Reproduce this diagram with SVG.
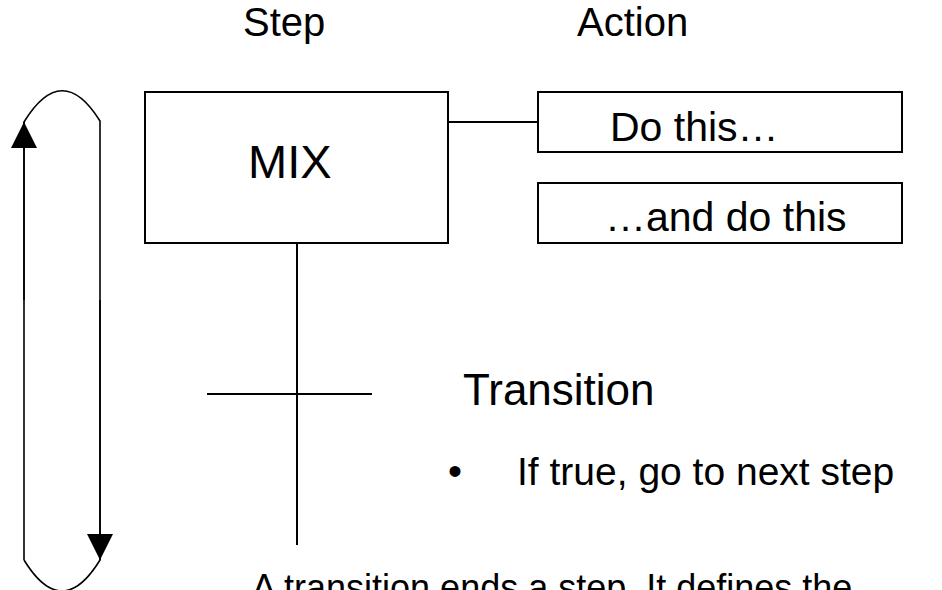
<svg xmlns="http://www.w3.org/2000/svg" width="942" height="590" viewBox="0 0 942 590">
  <style>
    text { font-family: "Liberation Sans", Arial, sans-serif; fill: #000; }
    .box { fill: #fff; stroke: #000; stroke-width: 2; }
    .line { fill: none; stroke: #000; stroke-width: 2; }
    .loop { fill: none; stroke: #000; stroke-width: 1.6; }
  </style>
  <defs>
    <marker id="arrow" viewBox="0 0 26 26" refX="26" refY="13" markerWidth="26" markerHeight="26" markerUnits="userSpaceOnUse" orient="auto">
      <path d="M0,0 L26,13 L0,26 Z" fill="#000"/>
    </marker>
  </defs>

  <rect width="942" height="590" fill="#fff"/>

  <!-- column headings -->
  <text x="243" y="36" font-size="40">Step</text>
  <text x="577" y="36" font-size="40">Action</text>

  <!-- connectors -->
  <g id="connectors">
    <line class="line" x1="448" y1="122" x2="538" y2="122"/>
    <line class="line" x1="297" y1="243" x2="297" y2="545"/>
    <line class="line" x1="207" y1="394" x2="372" y2="394"/>
    <!-- loop back to the step -->
    <path class="loop" d="M24,560 L24,122 Q62,60 100,121 L100,560 Q62,622 24,560"/>
    <line class="loop" x1="24" y1="300" x2="24" y2="122" marker-end="url(#arrow)"/>
    <line class="loop" x1="100" y1="300" x2="100" y2="560" marker-end="url(#arrow)"/>
  </g>

  <!-- step -->
  <g id="step-mix">
    <rect class="box" x="145" y="92" width="303" height="151"/>
    <text x="248" y="178" font-size="47">MIX</text>
  </g>

  <!-- actions -->
  <g id="action-1">
    <rect class="box" x="538" y="92" width="364" height="60"/>
    <text x="610" y="141" font-size="41">Do this…</text>
  </g>
  <g id="action-2">
    <rect class="box" x="538" y="183" width="364" height="60"/>
    <text x="605" y="231" font-size="41">…and do this</text>
  </g>

  <!-- transition -->
  <g id="transition">
    <text x="463" y="405" font-size="44">Transition</text>
    <text x="448" y="485" font-size="40">•</text>
    <text x="517" y="485" font-size="39">If true, go to next step</text>
  </g>

  <text x="252" y="600" font-size="36">A transition ends a step. It defines the</text>
</svg>
